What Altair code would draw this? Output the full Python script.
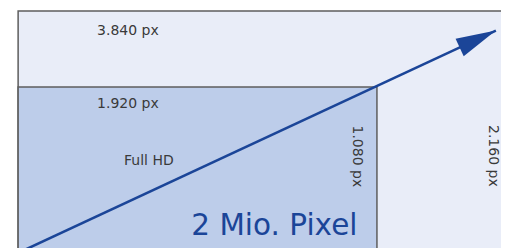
import math
import altair as alt
import numpy as np
import pandas as pd

# ---- data -------------------------------------------------------------
names = ["4K UHD", "Full HD"]
res_w = [3840, 1920]           # horizontal resolution (px)
res_h = [2160, 1080]           # vertical resolution (px)
w_labels = ["3.840 px", "1.920 px"]
h_labels = ["2.160 px", "1.080 px"]
inner_label = "Full HD"
pixel_label = "2 Mio. Pixel"
arrow_x = [0, 3552]            # arrow from origin through the Full HD corner
arrow_y = [0, 1883]

# page is 8 + 501 + 8 = 517 px wide and is photographed 509 px wide
K = 517 / 509
M = 8

# schematic (not to scale) piecewise scales
X_DOMAIN = [0, 1920, 3840]
X_RANGE = [18 * K - M, 377 * K - M, 517 * K - M]
Y_DOMAIN = [0, 1080, 2160]
Y_RANGE = [251 * K - M, 85 * K - M, 9 * K - M]

BORDER = "#5e5e5e"
FILLS = ["#e9edf8", "#bdcdea"]
BLUE = "#1b4598"
TXT = "#3a3a3a"
FONT = "DejaVu Sans"

xs = alt.Scale(domain=X_DOMAIN, range=X_RANGE, nice=False, zero=False)
ys = alt.Scale(domain=Y_DOMAIN, range=Y_RANGE, nice=False, zero=False)


def X(f):
    return alt.X(f, type="quantitative", scale=xs, axis=None)


def Y(f):
    return alt.Y(f, type="quantitative", scale=ys, axis=None)


rects = pd.DataFrame({
    "name": names,
    "x0": [0, 0], "x1": res_w,
    "y0": [0, 0], "y1": res_h,
})

rect_layer = alt.Chart(rects).mark_rect(
    stroke=BORDER, strokeWidth=1.5 * K, clip=True
).encode(
    x=X("x0"), x2="x1", y=Y("y0"), y2="y1",
    color=alt.Color("name:N", scale=alt.Scale(domain=names, range=FILLS), legend=None),
)

arrow = pd.DataFrame({"x": arrow_x, "y": arrow_y})
line_layer = alt.Chart(arrow).mark_line(color=BLUE, strokeWidth=2.5 * K, clip=True).encode(
    x=X("x"), y=Y("y")
)

px = np.interp(arrow_x, X_DOMAIN, X_RANGE)
py = np.interp(arrow_y, Y_DOMAIN, Y_RANGE)
ang = math.degrees(math.atan2(py[1] - py[0], px[1] - px[0])) % 360

head_layer = alt.Chart(arrow.iloc[[1]]).mark_point(
    shape="M0,0 L-2,-0.48 L-2,0.48 Z", size=1600 * K * K, filled=True,
    color=BLUE, opacity=1, strokeWidth=0, angle=ang,
).encode(x=X("x"), y=Y("y"))


def label(text, x, y, dx, dy, size, **kw):
    df = pd.DataFrame({"t": [text], "x": [x], "y": [y]})
    return alt.Chart(df).mark_text(
        font=FONT, dx=dx * K, dy=dy * K, fontSize=size * K, **kw
    ).encode(x=X("x"), y=Y("y"), text="t:N")


labels = [
    label(w_labels[0], 0, res_h[0], 79, 23.5, 14,
          align="left", baseline="alphabetic", color=TXT),
    label(w_labels[1], 0, res_h[1], 79, 21, 14,
          align="left", baseline="alphabetic", color=TXT),
    label(inner_label, 0, res_h[1], 106, 77.5, 14,
          align="left", baseline="alphabetic", color=TXT),
    label(pixel_label, res_w[1], 0, -19.5, -18, 29.5,
          align="right", baseline="alphabetic", color=BLUE),
    label(h_labels[1], res_w[1], res_h[1], 38.5, 23.5, 14,
          align="left", baseline="alphabetic", angle=90, color=TXT),
    label(h_labels[0], res_w[0], res_h[0], 114, 28, 14,
          align="left", baseline="alphabetic", angle=90, color=TXT),
]

chart = alt.layer(rect_layer, line_layer, head_layer, *labels).properties(
    width=501, height=246, padding=0,
    autosize=alt.AutoSizeParams(type="none"),
    background="white",
).configure_view(strokeWidth=0)

chart.save("out.html", embed_options={"renderer": "svg", "actions": False})
